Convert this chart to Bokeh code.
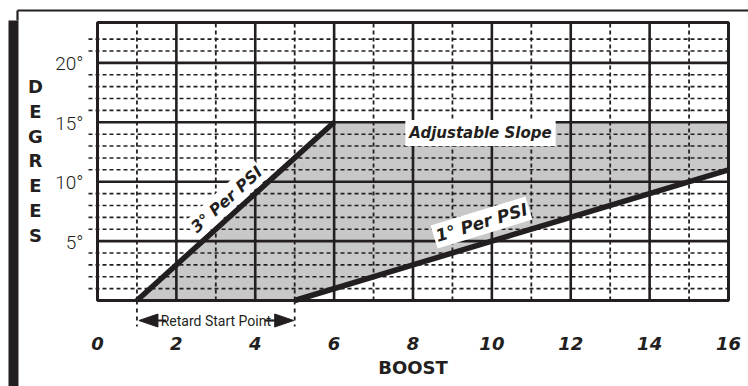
from bokeh.plotting import figure
from bokeh.models import Range1d, Label
from bokeh.core.properties import value
from bokeh.embed import file_html
from bokeh.resources import INLINE

# ---------------- data ----------------
boost_ticks = [0, 2, 4, 6, 8, 10, 12, 14, 16]
boost_labels = ["0", "2", "4", "6", "8", "10", "12", "14", "16"]
boost_minor = [1, 3, 5, 7, 9, 11, 13, 15]
degree_ticks = [5, 10, 15, 20]
degree_labels = ["5°", "10°", "15°", "20°"]
degree_minor = [1, 2, 3, 4, 6, 7, 8, 9, 11, 12, 13, 14, 16, 17, 18, 19, 21, 22]
x_max = 16
y_max = 23.4

three_psi_x = [1, 6]
three_psi_y = [0, 15]
one_psi_x = [5, 16]
one_psi_y = [0, 11]
slope_x = [1, 6, 16, 16, 5]
slope_y = [0, 15, 15, 11, 0]
retard_start = 1
retard_end = 5
slope_text = "Adjustable Slope"
three_text = "3° Per PSI"
one_text = "1° Per PSI"
retard_text = "Retard Start Point"
x_title = "BOOST"
y_title = "DEGREES"

# ---------------- layout ----------------
W, H = 748, 386
FL, FR, FT, FB = 97, 728, 22, 300  # frame edges in canvas pixels
kx = (FR - FL) / x_max
ky = (FB - FT) / y_max


def cx(px):
    return (px - FL) / kx


def cy(py):
    return (FB - py) / ky


INK = "#231f20"
GRAY = "#c8c8c8"

p = figure(width=W, height=H, output_backend="svg", toolbar_location=None,
           x_range=Range1d(cx(0), cx(W)), y_range=Range1d(cy(H), cy(0)),
           x_axis_location=None, y_axis_location=None, min_border=0)
p.outline_line_color = None
p.grid.visible = False
p.background_fill_color = "white"

# shaded adjustable area
p.patch(slope_x, slope_y, fill_color=GRAY, line_color=None)

# dashed minor grid
p.segment(x0=[cx(88)] * len(degree_minor), y0=degree_minor,
          x1=[x_max] * len(degree_minor), y1=degree_minor,
          line_color=INK, line_width=1.6, line_dash="4 3")
p.segment(x0=boost_minor, y0=[0] * len(boost_minor),
          x1=boost_minor, y1=[y_max] * len(boost_minor),
          line_color=INK, line_width=1.8, line_dash="4 3")
p.segment(x0=[retard_start, retard_end], y0=[0, 0],
          x1=[retard_start, retard_end], y1=[cy(326)] * 2,
          line_color=INK, line_width=1.8, line_dash="4 4")

# solid major grid
p.segment(x0=boost_ticks[1:-1], y0=[0] * 7, x1=boost_ticks[1:-1], y1=[y_max] * 7,
          line_color=INK, line_width=2.6)
p.segment(x0=[0] * 4, y0=degree_ticks, x1=[x_max] * 4, y1=degree_ticks,
          line_color=INK, line_width=2.6)

# frame
p.quad(left=[0], right=[x_max], bottom=[0], top=[y_max], fill_color=None,
       line_color=INK, line_width=3)

# slope lines
p.line(three_psi_x, three_psi_y, line_color=INK, line_width=5.5)
p.line(one_psi_x, one_psi_y, line_color=INK, line_width=5.5)

# outer decoration
p.quad(left=[cx(8)], right=[cx(18)], top=[cy(20)], bottom=[cy(H)],
       fill_color=INK, line_color=None)
p.segment(x0=[cx(17)], y0=[cy(10)], x1=[cx(W)], y1=[cy(10)], line_color=INK, line_width=2.2)
p.segment(x0=[cx(17)], y0=[cy(10)], x1=[cx(17)], y1=[cy(20)], line_color=INK, line_width=2.2)

# tick labels
p.text(x=[0] * 4, y=degree_ticks, text=degree_labels, x_offset=-14, y_offset=1,
       text_align="right", text_baseline="middle", text_color=INK,
       text_font=value("Roboto Light"), text_font_size="19px")
p.text(x=boost_ticks, y=[0] * len(boost_ticks), text=boost_labels, y_offset=43,
       text_align="center", text_baseline="middle", text_color=INK,
       text_font=value("DejaVu Sans"), text_font_style="bold italic",
       text_font_size="18px")

# axis titles
p.text(x=[x_max / 2], y=[0], text=[x_title], y_offset=67,
       text_align="center", text_baseline="middle", text_color=INK,
       text_font=value("DejaVu Sans"), text_font_style="bold", text_font_size="18px")
letters = list(y_title)
p.text(x=[cx(35)] * len(letters), y=[cy(86 + 24.75 * i) for i in range(len(letters))],
       text=letters, text_align="center", text_baseline="middle", text_color=INK,
       text_font=value("DejaVu Sans"), text_font_style="bold", text_font_size="18px")

# retard start point annotation
yr = cy(320)
p.text(x=[(retard_start + retard_end) / 2], y=[yr], text=[retard_text],
       text_align="center", text_baseline="middle", text_color=INK,
       text_font=value("Roboto"), text_font_size="14px")
tip_l = retard_start + 2 / kx
tip_r = retard_end - 1 / kx
hl, hw = 19 / kx, 6.5 / ky
p.patches(xs=[[tip_l, tip_l + hl, tip_l + hl], [tip_r, tip_r - hl, tip_r - hl]],
          ys=[[yr, yr + hw, yr - hw], [yr, yr + hw, yr - hw]],
          fill_color=INK, line_color=INK)
p.segment(x0=[tip_l + hl, tip_r - hl], y0=[yr, yr],
          x1=[tip_l + hl + 8 / kx, tip_r - hl - 10 / kx], y1=[yr, yr],
          line_color=INK, line_width=2.2)

# in-plot labels with white boxes
lab_style = dict(text_color=INK, text_font="DejaVu Sans", text_font_style="bold italic",
                 text_align="center", text_baseline="middle",
                 background_fill_color="white", background_fill_alpha=1.0)
p.add_layout(Label(x=cx(480), y=cy(132.5), text=slope_text, text_font_size="15px",
                   padding=4, **lab_style))
p.add_layout(Label(x=cx(226), y=cy(199), text=three_text, angle=0.735,
                   text_font_size="16px", padding=2, **lab_style))
p.add_layout(Label(x=cx(481), y=cy(222), text=one_text, angle=0.295,
                   text_font_size="17px", padding=2, **lab_style))

open("out.html", "w").write(file_html(p, INLINE))
